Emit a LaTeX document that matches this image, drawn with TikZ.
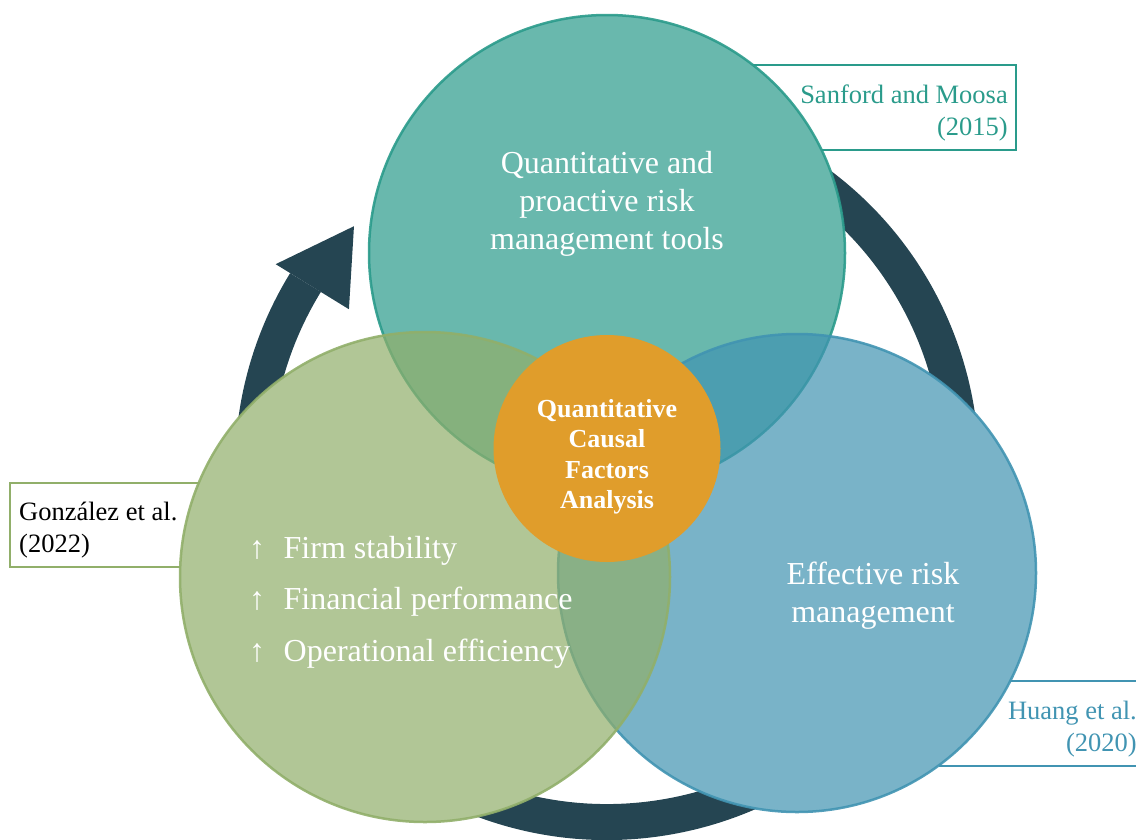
\documentclass[tikz,border=0pt]{standalone}
\usepackage{fontspec}
\setmainfont{Liberation Serif}
\usepackage{tikz}
\usetikzlibrary{calc}
\usetikzlibrary{math}

\definecolor{tealc}{RGB}{42,155,139}
\definecolor{greenc}{RGB}{145,175,106}
\definecolor{bluec}{RGB}{65,148,178}
\definecolor{orangec}{RGB}{224,157,43}
\definecolor{ringc}{RGB}{37,69,82}

\begin{document}
\begin{tikzpicture}[x=1pt,y=-1pt,
    bulle/.style={draw=#1, fill=#1, fill opacity=0.7, draw opacity=0.9, line width=2.5pt},
    cadre/.style={draw=#1, line width=2.5pt},
    texte/.style={text=white, align=center, font=\fontsize{32}{38}\selectfont, inner sep=0pt},
    source/.style={inner sep=0pt, font=\fontsize{26.5}{32}\selectfont}]
            \tikzmath{\rring = 354; \epais = 36;}
            \useasboundingbox (0,0) rectangle (1136,839);

            \coordinate (ring) at (607,468);
            \coordinate (haut) at (607,253);
            \coordinate (gauche) at (425,577);
            \coordinate (droite) at (797,573);
            \coordinate (centre) at (607,448.5);

            % fleche circulaire
            \draw[ringc, line width=\epais pt] ($(ring)+(60:\rring pt)$) arc[start angle=60, end angle=-211.6, radius=\rring pt];
            \fill[ringc] ($(ring)+(148.4:303pt)$) -- ($(ring)+(148.4:389pt)$) -- ($(ring)+(136.3:350pt)$) -- cycle;

            % cadres des sources
            \draw[cadre=tealc] (740,65) rectangle (1016,150);
            \draw[cadre=greenc] (10,483) rectangle (240,567);
            \draw[cadre=bluec] (940,681) rectangle (1150,766);
            \node[source, text=tealc, anchor=east, align=right] (sanford) at (1008,113) {Sanford and Moosa\\(2015)};
            \node[source, text=black, anchor=west, align=left] (gonzalez) at (19,530) {González et al.\\(2022)};
            \node[source, text=bluec, anchor=east, align=right] (huang) at (1137,729.5) {Huang et al.\\(2020)};

            % cercles
            \fill[white] (haut) circle[radius=238pt] (gauche) circle[radius=245pt] (droite) circle[radius=239pt];
            \filldraw[bulle=tealc] (haut) circle[radius=238pt];
            \filldraw[bulle=bluec] (droite) circle[radius=239pt];
            \filldraw[bulle=greenc] (gauche) circle[radius=245pt];
            \fill[orangec] (centre) circle[radius=113.5pt];

            \node[texte] (outils) at (607,204) {Quantitative and\\proactive risk\\management tools};
            \node[texte] (gestion) at (873,596) {Effective risk\\management};
            \node[texte, align=left, anchor=west, font=\fontsize{32}{51.5}\selectfont] (effets) at (249,602)
                {↑\hspace{10.5pt} Firm stability\\↑\hspace{10.5pt} Financial performance\\↑\hspace{10.5pt} Operational efficiency};
            \node[texte, font=\fontsize{26}{30.5}\selectfont\bfseries] (analyse) at (607,457)
                {Quantitative\\Causal\\Factors\\Analysis};
        \end{tikzpicture}
\end{document}
